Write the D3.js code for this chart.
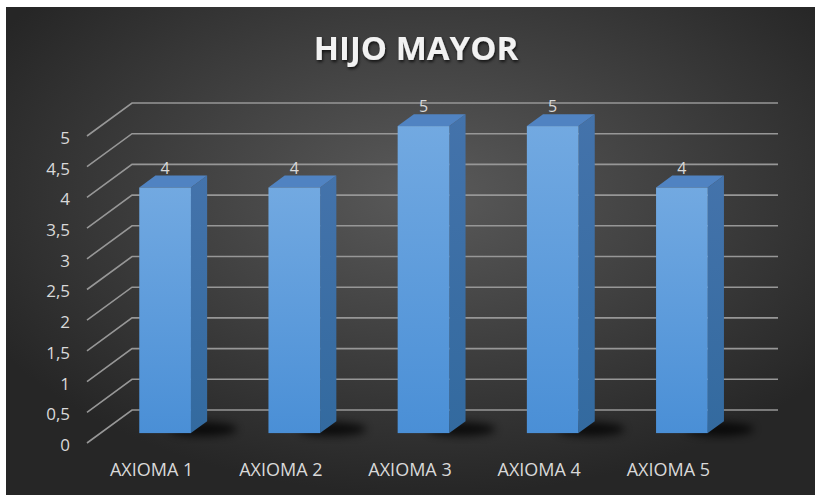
<!DOCTYPE html>
<html>
<head>
<meta charset="utf-8">
<script src="https://cdn.jsdelivr.net/npm/d3@7"></script>
<style>
    html, body { margin: 0; padding: 0; background: #ffffff; }
    svg { display: block; }
    text { font-family: "Open Sans", sans-serif; }
</style>
</head>
<body>
<svg id="chart"></svg>
<script>

// DATA

const categories = ["AXIOMA 1", "AXIOMA 2", "AXIOMA 3", "AXIOMA 4", "AXIOMA 5"];
const values = [4, 4, 5, 5, 4];
const yTicks = [0, 0.5, 1, 1.5, 2, 2.5, 3, 3.5, 4, 4.5, 5];
const chartTitle = "HIJO MAYOR";


// SETUP

const width = 815;
const height = 495;

const svg = d3.select("#chart")
    .attr("width", width)
    .attr("height", height);

const defs = svg.append("defs");

// background gradient
const bgGrad = defs.append("radialGradient")
    .attr("id", "bgGrad")
    .attr("cx", "52%")
    .attr("cy", "38%")
    .attr("r", "62%");
bgGrad.append("stop").attr("offset", "0%").attr("stop-color", "#5a5a5a");
bgGrad.append("stop").attr("offset", "100%").attr("stop-color", "#262626");

// bar faces
const frontGrad = defs.append("linearGradient")
    .attr("id", "frontGrad")
    .attr("x1", 0).attr("y1", 0).attr("x2", 0).attr("y2", 1);
frontGrad.append("stop").attr("offset", "0%").attr("stop-color", "#72a9e1");
frontGrad.append("stop").attr("offset", "100%").attr("stop-color", "#4a8fd6");

const sideGrad = defs.append("linearGradient")
    .attr("id", "sideGrad")
    .attr("x1", 0).attr("y1", 0).attr("x2", 0).attr("y2", 1);
sideGrad.append("stop").attr("offset", "0%").attr("stop-color", "#4473ab");
sideGrad.append("stop").attr("offset", "100%").attr("stop-color", "#336a9f");

const blur = defs.append("filter")
    .attr("id", "blur")
    .attr("x", "-50%").attr("y", "-50%")
    .attr("width", "200%").attr("height", "200%");
blur.append("feGaussianBlur").attr("stdDeviation", 4);

const titleShadow = defs.append("filter").attr("id", "titleShadow");
titleShadow.append("feDropShadow")
    .attr("dx", 1).attr("dy", 2)
    .attr("stdDeviation", 1.5)
    .attr("flood-color", "#000")
    .attr("flood-opacity", 0.7);

svg.append("rect")
    .attr("x", 6)
    .attr("y", 7)
    .attr("width", width - 6)
    .attr("height", height - 7)
    .attr("fill", "url(#bgGrad)");


// SCALES (front edge of the floor, oblique depth)

const floorLeft = 87;
const floorRight = 733;
const depthX = 45;
const depthY = -33;

const barDepthFront = 0.3;
const barDepthBack = 0.66;

const y = d3.scaleLinear()
    .domain([0, 5])
    .range([443, 136]);

const xBar = d3.scaleBand()
    .domain(categories)
    .range([floorLeft, floorRight])
    .paddingInner(0.6)
    .paddingOuter(0.3);

const xCat = d3.scaleBand()
    .domain(categories)
    .range([floorLeft, floorRight]);

function point(x, v, depth) {
    return [x + depth * depthX, y(v) + depth * depthY];
}


// GRID

const grid = svg.append("g")
    .attr("stroke", "#979797")
    .attr("stroke-width", 1.6)
    .attr("fill", "none");

for (let t of yTicks) {

    let a = point(floorLeft, t, 0);
    let b = point(floorLeft, t, 1);
    let c = point(floorRight, t, 1);

    grid.append("polyline")
        .attr("points", [a, b, c].map(p => p.join(",")).join(" "));

}


// Y AXIS LABELS

const yAxis = svg.append("g")
    .attr("transform", "translate(70, 2)")
    .call(
        d3.axisLeft(y)
            .tickValues(yTicks)
            .tickSize(0)
            .tickPadding(0)
            .tickFormat(d => String(d).replace(".", ","))
    );

yAxis.select(".domain").remove();
yAxis.selectAll("text")
    .attr("fill", "#d9d9d9")
    .style("font-size", "17px");


// X AXIS LABELS

const xAxis = svg.append("g")
    .attr("transform", "translate(0, " + y(0) + ")")
    .call(
        d3.axisBottom(xCat)
            .tickSize(0)
            .tickPadding(20)
    );

xAxis.select(".domain").remove();
xAxis.selectAll("text")
    .attr("fill", "#d9d9d9")
    .style("font-size", "18px");


// BARS

const bars = svg.append("g");

for (let i = 0; i < categories.length; i++) {

    let value = values[i];
    let left = xBar(categories[i]);
    let right = left + xBar.bandwidth();

    let fBottomLeft = point(left, 0, barDepthFront);
    let fBottomRight = point(right, 0, barDepthFront);
    let fTopLeft = point(left, value, barDepthFront);
    let fTopRight = point(right, value, barDepthFront);
    let bTopLeft = point(left, value, barDepthBack);
    let bTopRight = point(right, value, barDepthBack);
    let bBottomRight = point(right, 0, barDepthBack);

    // floor shadow
    bars.append("ellipse")
        .attr("cx", fBottomRight[0] + 12)
        .attr("cy", fBottomRight[1] - 4)
        .attr("rx", 34)
        .attr("ry", 7)
        .attr("fill", "#000")
        .attr("opacity", 0.75)
        .attr("filter", "url(#blur)");

    // side face
    bars.append("polygon")
        .attr("points", [fTopRight, bTopRight, bBottomRight, fBottomRight].map(p => p.join(",")).join(" "))
        .attr("fill", "url(#sideGrad)");

    // top face
    bars.append("polygon")
        .attr("points", [fTopLeft, bTopLeft, bTopRight, fTopRight].map(p => p.join(",")).join(" "))
        .attr("fill", "#5083c2");

    // front face
    bars.append("rect")
        .attr("x", fTopLeft[0])
        .attr("y", fTopLeft[1])
        .attr("width", right - left)
        .attr("height", fBottomLeft[1] - fTopLeft[1])
        .attr("fill", "url(#frontGrad)");

    // value label
    bars.append("text")
        .attr("x", (fTopLeft[0] + fTopRight[0]) / 2)
        .attr("y", bTopLeft[1] - 2)
        .attr("text-anchor", "middle")
        .attr("fill", "#d9d9d9")
        .style("font-size", "16px")
        .text(value);

}


// TITLE

svg.append("text")
    .attr("x", 416)
    .attr("y", 60)
    .attr("text-anchor", "middle")
    .attr("fill", "#f2f2f2")
    .attr("filter", "url(#titleShadow)")
    .style("font-size", "33px")
    .style("font-weight", "bold")
    .text(chartTitle);

</script>
</body>
</html>
